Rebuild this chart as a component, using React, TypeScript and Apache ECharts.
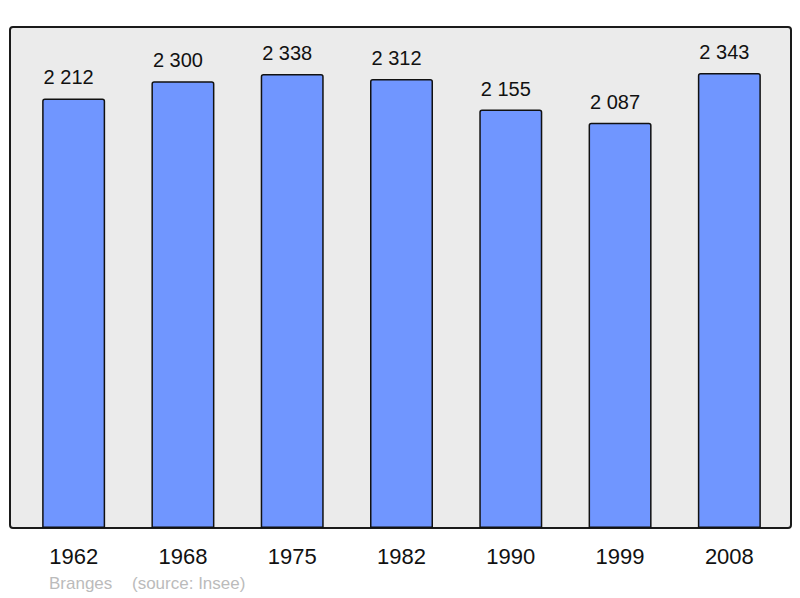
import React, { useEffect, useRef } from "react";
import * as echarts from "echarts";

const years = ["1962", "1968", "1975", "1982", "1990", "1999", "2008"];
const population = [2212, 2300, 2338, 2312, 2155, 2087, 2343];
const footerName = "Branges";
const footerSource = "(source: Insee)";

const fmt = (v: number) => {
  const s = String(v);
  return s.length > 3 ? s.slice(0, s.length - 3) + " " + s.slice(-3) : s;
};

export default function App() {
  const ref = useRef<HTMLDivElement>(null);
  useEffect(() => {
    const chart = echarts.init(ref.current!, null, { renderer: "svg" });
    chart.setOption({
      animation: false,
      textStyle: { fontFamily: "Liberation Sans, Arial, sans-serif" },
      graphic: [
        {
          type: "rect",
          z: -10,
          shape: { x: 10, y: 27, width: 781, height: 501, r: 3 },
          style: { fill: "#ebebeb", stroke: "#1a1a1a", lineWidth: 2 },
        },
        {
          type: "text",
          left: 49,
          top: 575,
          style: { text: footerName, fill: "#bbbbbb", fontSize: 17, fontFamily: "Liberation Sans, Arial, sans-serif" },
        },
        {
          type: "text",
          left: 132,
          top: 575,
          style: { text: footerSource, fill: "#bbbbbb", fontSize: 17, fontFamily: "Liberation Sans, Arial, sans-serif" },
        },
      ],
      grid: { left: 19, top: 27, width: 765, height: 501, containLabel: false },
      xAxis: {
        type: "category",
        data: years,
        axisLine: { show: false },
        axisTick: { show: false },
        axisLabel: { color: "#111", fontSize: 22, margin: 17 },
      },
      yAxis: {
        type: "value",
        min: 0,
        max: 2580,
        show: false,
        splitLine: { show: false },
      },
      series: [
        {
          type: "bar",
          data: population,
          barWidth: 63,
          itemStyle: {
            color: "#7096ff",
            borderColor: "#111",
            borderWidth: 1.5,
            borderRadius: [2, 2, 0, 0],
          },
          label: {
            show: true,
            position: "top",
            distance: 11,
            offset: [-5, 0],
            fontSize: 20,
            color: "#111",
            formatter: (p: any) => fmt(p.value),
          },
        },
      ],
    });
    return () => chart.dispose();
  }, []);
  return (
    <div
      ref={ref}
      style={{ position: "absolute", left: 0, top: 0, width: 800, height: 598 }}
    />
  );
}
